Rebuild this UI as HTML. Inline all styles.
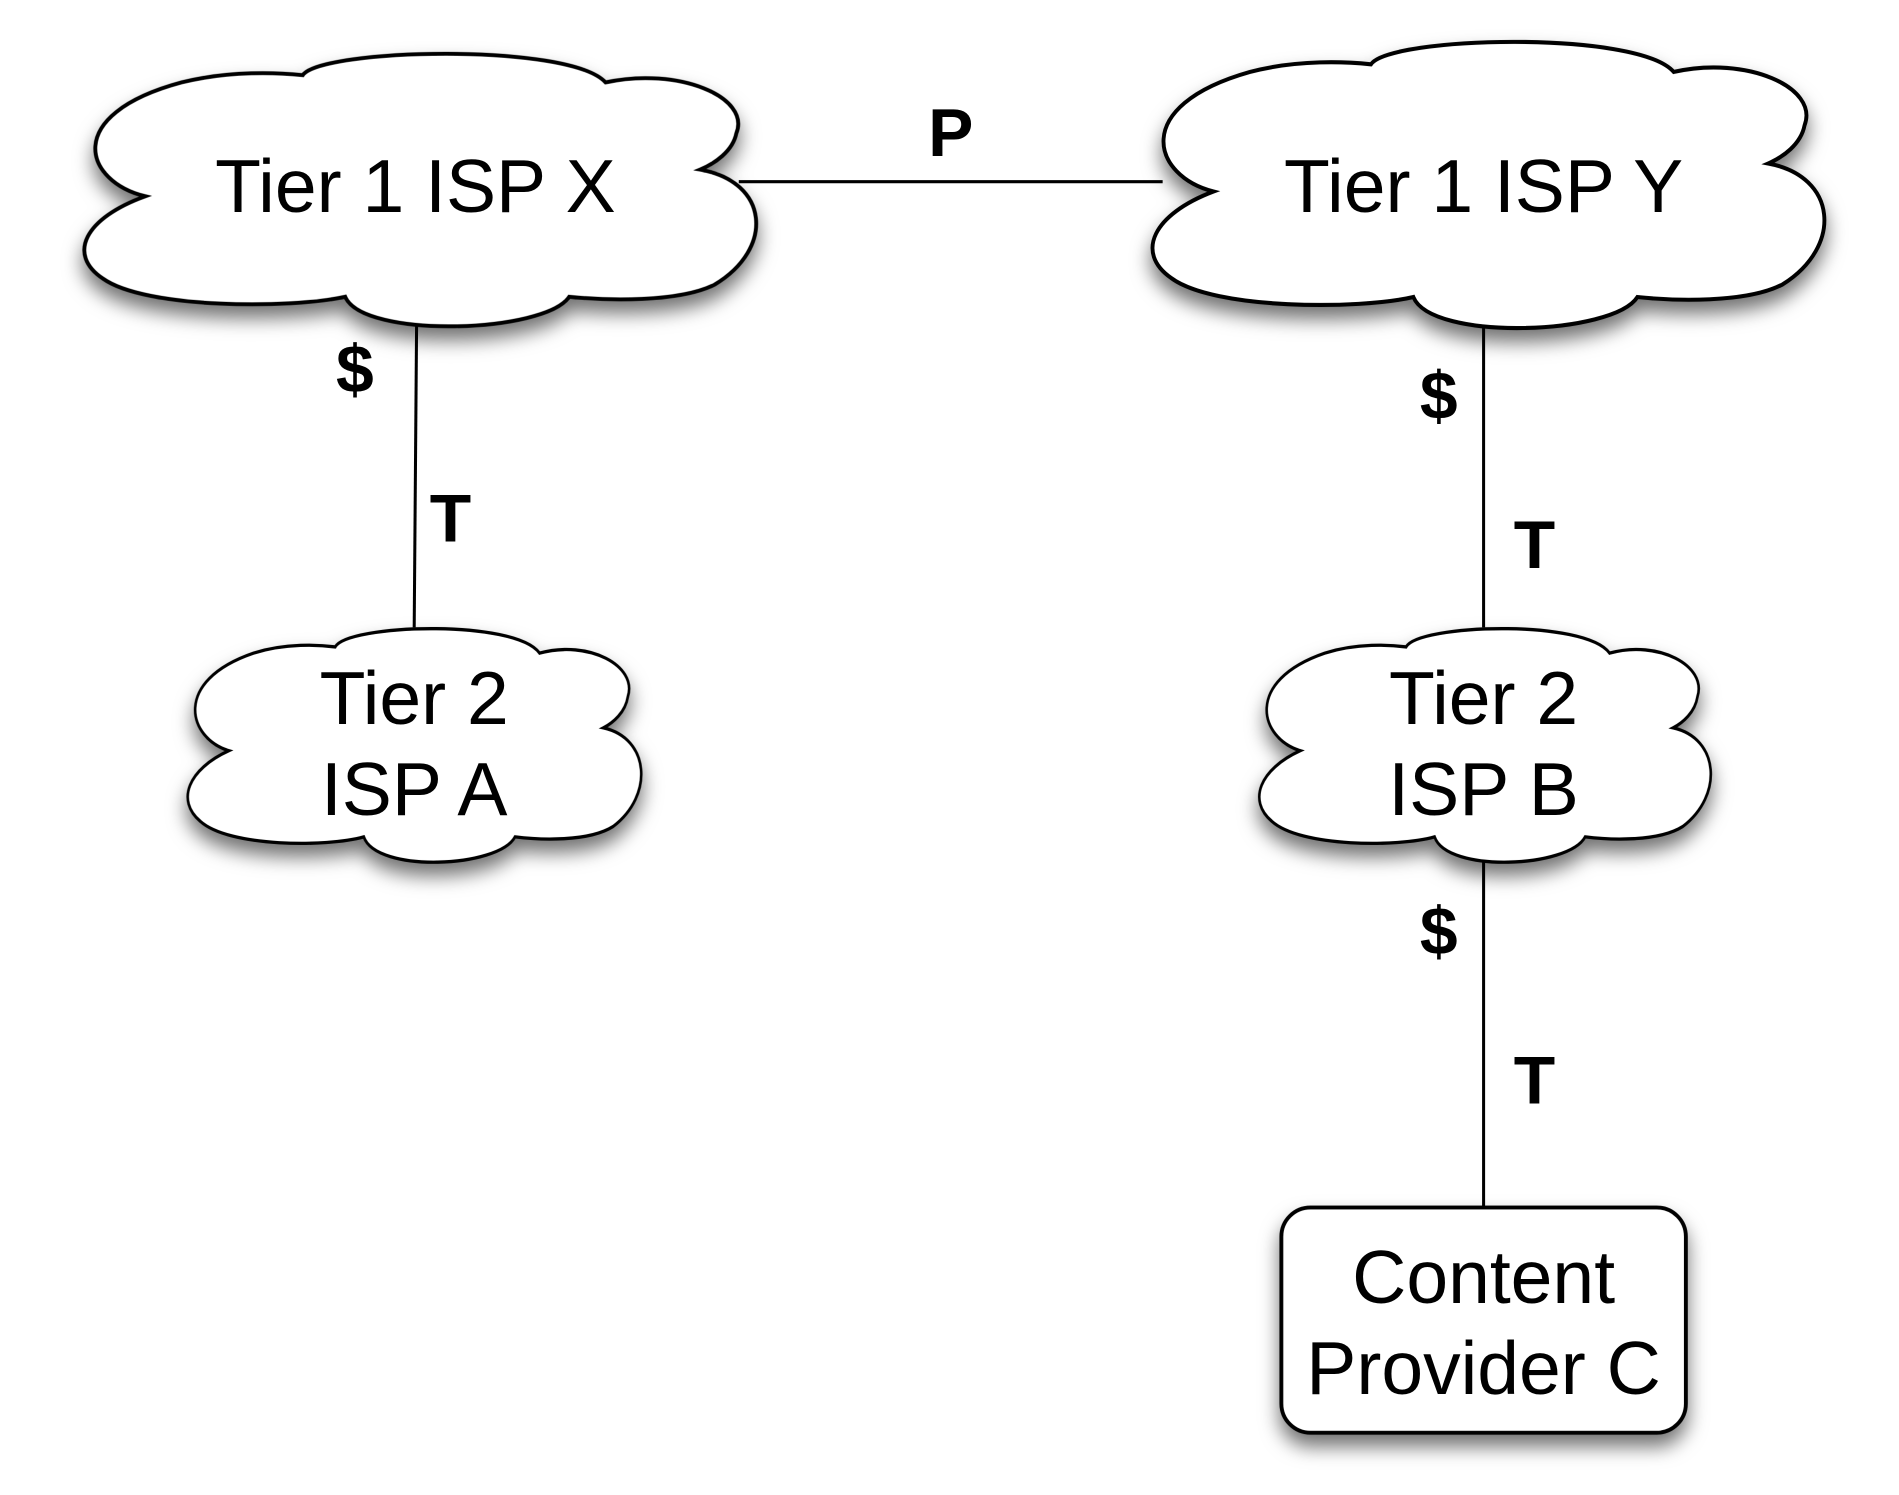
<!DOCTYPE html>
<html><head><style>html,body{margin:0;padding:0;background:#fff}svg{display:block}</style></head>
<body>
<svg width="1899" height="1495" viewBox="0 0 1568 1234.4" xmlns="http://www.w3.org/2000/svg">
<defs>
<filter id="sh" x="-20%" y="-20%" width="140%" height="150%">
<feDropShadow dx="0" dy="10" stdDeviation="8" flood-color="#000" flood-opacity="0.55"/>
</filter>
<path id="cloud" d="M120,162 C70,150 50,95 150,68 C190,58 230,60 250,62 C265,40 470,35 500,68 C560,55 620,80 608,110 C605,125 590,135 578,140 C635,150 640,205 590,235 C560,250 500,248 470,245 C450,275 300,280 285,245 C240,255 120,255 85,230 C55,210 70,180 120,162 Z"/>
</defs>
<g stroke="#000" stroke-width="2.5" fill="none">
<line x1="610" y1="150" x2="960" y2="150"/>
<line x1="344" y1="265" x2="342" y2="518"/>
<line x1="1225" y1="265" x2="1225" y2="518"/>
<line x1="1225" y1="705" x2="1225" y2="998"/>
</g>
<g fill="#fff" stroke="#000" stroke-width="3.2" filter="url(#sh)">
<use href="#cloud"/>
<use href="#cloud" transform="translate(882,-12) scale(1,1.05)"/>
<use href="#cloud" transform="translate(108,481) scale(0.675,0.857)"/>
<use href="#cloud" transform="translate(993,481) scale(0.672,0.857)"/>
<rect x="1058" y="997" width="334" height="186" rx="24" ry="24"/>
</g>
<g font-family="Liberation Sans, Arial, sans-serif" font-size="62" text-anchor="middle" fill="#000">
<text x="343" y="175">Tier 1 ISP X</text>
<text x="1225" y="175">Tier 1 ISP Y</text>
<text x="342" y="598">Tier 2</text>
<text x="342" y="673">ISP A</text>
<text x="1225" y="598">Tier 2</text>
<text x="1225" y="673">ISP B</text>
<text x="1225" y="1076">Content</text>
<text x="1225" y="1151">Provider C</text>
</g>
<g font-family="Liberation Sans, Arial, sans-serif" font-size="56" font-weight="bold" text-anchor="middle" fill="#000">
<text x="785" y="129">P</text>
<text x="293" y="324">$</text>
<text x="372" y="447">T</text>
<text x="1188" y="346">$</text>
<text x="1267" y="469">T</text>
<text x="1188" y="788">$</text>
<text x="1267" y="911">T</text>
</g>
</svg>
</body></html>
